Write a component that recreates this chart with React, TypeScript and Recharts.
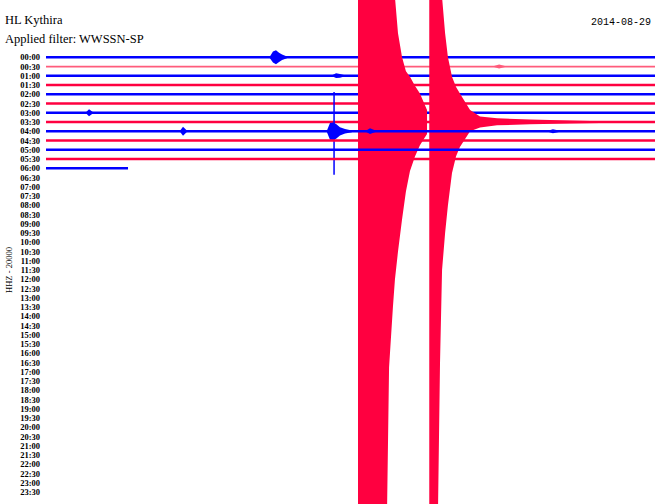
import React from 'react';
import { ComposedChart, Line, Area, XAxis, YAxis } from 'recharts';

// half-hour rows of the helicorder, top to bottom
const ROW_LABELS = [
  '00:00', '00:30', '01:00', '01:30', '02:00', '02:30', '03:00', '03:30',
  '04:00', '04:30', '05:00', '05:30', '06:00', '06:30', '07:00', '07:30',
  '08:00', '08:30', '09:00', '09:30', '10:00', '10:30', '11:00', '11:30',
  '12:00', '12:30', '13:00', '13:30', '14:00', '14:30', '15:00', '15:30',
  '16:00', '16:30', '17:00', '17:30', '18:00', '18:30', '19:00', '19:30',
  '20:00', '20:30', '21:00', '21:30', '22:00', '22:30', '23:00', '23:30',
];

// minutes recorded in each row (only the first 13 rows have data)
const TRACE_END = [30, 30, 30, 30, 30, 30, 30, 30, 30, 30, 30, 30, 4.04];

// bursts: [minute, amplitude up, amplitude down] in row spacings
const BURST_0000 = [[11.03, 0.1, 0.1], [11.18, 0.62, 0.55], [11.33, 0.76, 0.76], [11.48, 0.5, 0.5], [11.63, 0.3, 0.28], [11.87, 0.1, 0.1]];
const BURST_0030 = [[22.07, 0.05, 0.05], [22.32, 0.22, 0.2], [22.61, 0.05, 0.05]];
const BURST_0100 = [[14.09, 0.05, 0.05], [14.29, 0.27, 0.25], [14.48, 0.2, 0.2], [14.73, 0.05, 0.05]];
const BURST_0300 = [[1.97, 0.05, 0.05], [2.12, 0.38, 0.36], [2.32, 0.05, 0.05]];
const BURST_0400_A = [[6.6, 0.05, 0.05], [6.75, 0.49, 0.47], [6.95, 0.05, 0.05]];
const BURST_0400_B = [[13.84, 0.1, 0.1], [13.99, 0.9, 0.9], [14.14, 0.95, 0.95], [14.29, 0.8, 0.8], [14.48, 0.45, 0.45], [14.73, 0.25, 0.25], [15.07, 0.1, 0.1]];
const BURST_0400_C = [[15.76, 0.05, 0.05], [15.96, 0.32, 0.3], [16.26, 0.05, 0.05]];
const BURST_0400_D = [[24.73, 0.05, 0.05], [24.97, 0.22, 0.2], [25.32, 0.05, 0.05]];

// the big event on the 03:30 row, two wave trains
const QUAKE_A = [
  [15.37, 20, 50], [16.6, 20, 50], [16.8, 20, 42], [16.9, 20, 26.5], [17.09, 20, 20],
  [17.19, 13.5, 17], [17.34, 9.6, 14], [17.54, 7.0, 10.5], [17.73, 5.5, 7.5],
  [17.93, 4.9, 5.3], [18.18, 3.9, 3.7], [18.42, 3.1, 2.5], [18.77, 1.3, 1.3],
];
const QUAKE_B = [
  [18.88, 20, 50], [19.26, 20, 50], [19.41, 20, 26], [19.51, 13.5, 16], [19.66, 9.6, 12],
  [19.8, 7.0, 9], [20.0, 4.9, 5.5], [20.2, 3.8, 3.7], [20.39, 3.1, 2.7], [20.89, 1.3, 1.0],
  [21.38, 0.6, 0.6], [22.22, 0.4, 0.35], [23.84, 0.28, 0.25], [25.81, 0.18, 0.16], [27.29, 0.1, 0.1],
];

// clipped vertical spike on the 04:00 row: [minute, up, down]
const SPIKE_0400 = [14.19, 4.25, 4.7];

const BURSTS = [
  { row: 0, pts: BURST_0000 },
  { row: 1, pts: BURST_0030 },
  { row: 2, pts: BURST_0100 },
  { row: 6, pts: BURST_0300 },
  { row: 7, pts: QUAKE_A },
  { row: 7, pts: QUAKE_B },
  { row: 8, pts: BURST_0400_A },
  { row: 8, pts: BURST_0400_B },
  { row: 8, pts: BURST_0400_C },
  { row: 8, pts: BURST_0400_D },
];

const W = 660;
const H = 504;
const BLUE = '#0000ff';
const RED = '#ff0040';
const PINK = '#ff5c7c'; // first red row looks faded
const rowColor = (r: number) => (r % 2 === 0 ? BLUE : r === 1 ? PINK : RED);

export default function App() {
  const layers: React.ReactNode[] = [];
  let z = 100;
  TRACE_END.forEach((end, r) => {
    layers.push(
      <Line
        key={`line-${r}`}
        data={[{ t: 0, v: r }, { t: end, v: r }]}
        dataKey="v"
        type="linear"
        stroke={rowColor(r)}
        strokeWidth={r === 1 ? 1.8 : 2.5}
        dot={false}
        isAnimationActive={false}
        zIndex={z++}
      />
    );
    BURSTS.filter((b) => b.row === r).forEach((b, i) => {
      layers.push(
        <Area
          key={`burst-${r}-${i}`}
          data={b.pts.map(([t, up, down]) => ({ t, v: [r - up, r + down] }))}
          dataKey="v"
          type="linear"
          stroke="none"
          fill={rowColor(r)}
          fillOpacity={1}
          isAnimationActive={false}
          zIndex={z++}
        />
      );
    });
    if (r === 8) {
      const [t, up, down] = SPIKE_0400;
      layers.push(
        <Line
          key="spike-0400"
          data={[{ t, v: r - up }, { t, v: r + down }]}
          dataKey="v"
          stroke={BLUE}
          strokeWidth={1.5}
          dot={false}
          isAnimationActive={false}
          zIndex={z++}
        />
      );
    }
  });

  return (
    <div style={{ position: 'absolute', left: 0, top: 0, width: W, height: H, background: '#fff' }}>
      <ComposedChart width={W} height={H} margin={{ top: 0, right: 5, bottom: 0, left: 0 }}>
        <XAxis type="number" dataKey="t" domain={[0, 30]} allowDataOverflow hide />
        <YAxis
          type="number"
          domain={[-6.195, 48.29]}
          reversed
          allowDataOverflow
          ticks={ROW_LABELS.map((_, i) => i)}
          interval={0}
          tickFormatter={(v: number) => ROW_LABELS[v]}
          width={46}
          axisLine={false}
          tickLine={false}
          tickSize={4}
          tickMargin={2}
          tick={{ fill: '#000', fontSize: 8.5, fontWeight: 'bold', fontFamily: 'Liberation Serif' }}
        />
        {layers}
      </ComposedChart>
      <svg width={W} height={H} style={{ position: 'absolute', left: 0, top: 0, pointerEvents: 'none' }}>
        <text x={5} y={24} fontFamily="Liberation Serif" fontSize={12.5} fill="#000">HL Kythira</text>
        <text x={5} y={43} fontFamily="Liberation Serif" fontSize={12.5} fill="#000">Applied filter: WWSSN-SP</text>
        <text x={651} y={25} textAnchor="end" fontFamily="Liberation Mono" fontSize={10} fill="#000">2014-08-29</text>
        <text transform="translate(12,270) rotate(-90)" textAnchor="middle" fontFamily="Liberation Serif" fontSize={8.5} fill="#000">HHZ - 20000</text>
      </svg>
    </div>
  );
}
